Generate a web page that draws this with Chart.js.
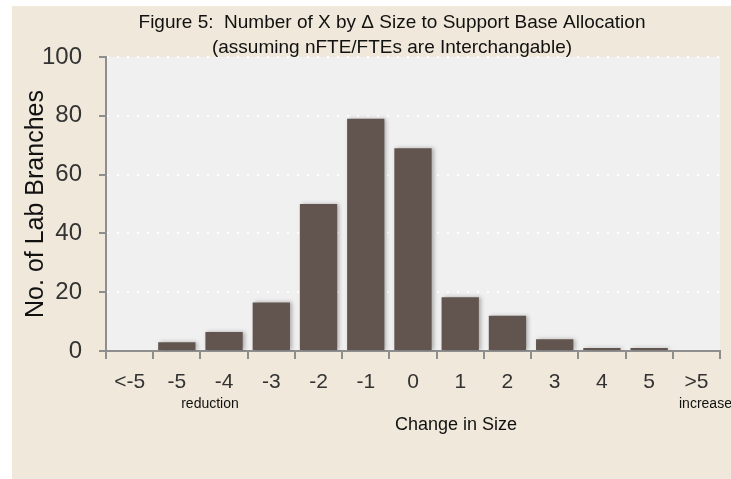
<!DOCTYPE html>
<html>
<head>
<meta charset="utf-8">
<script src="https://cdn.jsdelivr.net/npm/chart.js@4/dist/chart.umd.min.js"></script>
<style>
  html, body { margin: 0; padding: 0; background: #ffffff; }
  #wrap { width: 731px; height: 479px; }
</style>
</head>
<body>
<div id="wrap"><canvas id="sizeChart" width="731" height="479"></canvas></div>
<script>
// categories and counts
const sizeLabels = ['<-5', '-5', '-4', '-3', '-2', '-1', '0', '1', '2', '3', '4', '5', '>5'];
const branchCounts = [0, 3, 6.5, 16.5, 50, 79, 69, 18.3, 12, 4, 1, 1, 0];
const yTicks = [0, 20, 40, 60, 80, 100];

const titleLines = ['Figure 5:  Number of X by \u0394 Size to Support Base Allocation',
  '(assuming nFTE/FTEs are Interchangable)'];

const axisGray = '#8e8e8e';
const barColor = '#62554f';

// beige panel + light gray plot background
const backdrop = {
  id: 'backdrop',
  beforeDraw(chart) {
    const { ctx, chartArea: a } = chart;
    ctx.save();
    ctx.fillStyle = '#f0e8da';
    ctx.fillRect(12, 6, chart.width - 12, chart.height - 6);
    ctx.fillStyle = '#f0f0f0';
    ctx.fillRect(a.left, a.top, a.right - a.left, a.bottom - a.top);
    ctx.restore();
  },
  beforeDatasetsDraw(chart) {
    const ctx = chart.ctx;
    ctx.save();
    ctx.shadowColor = 'rgba(0,0,0,0.28)';
    ctx.shadowBlur = 4;
    ctx.shadowOffsetX = 2;
  },
  afterDatasetsDraw(chart) {
    chart.ctx.restore();
  }
};

// title and the small notes under the x axis
const notes = {
  id: 'notes',
  afterDraw(chart) {
    const ctx = chart.ctx;
    ctx.save();
    ctx.fillStyle = '#111';
    ctx.textAlign = 'center';
    ctx.textBaseline = 'middle';
    ctx.font = '19px "Liberation Sans", Arial, sans-serif';
    ctx.fillText(titleLines[0], 392, 23);
    ctx.fillText(titleLines[1], 392, 48);
    ctx.font = '18px "Liberation Sans", Arial, sans-serif';
    ctx.fillText('Change in Size', 456, 425);
    ctx.font = '14px "Liberation Sans", Arial, sans-serif';
    ctx.fillText('reduction', 210, 404);
    ctx.textAlign = 'left';
    ctx.fillText('increase', 679, 404);
    ctx.restore();
  }
};

new Chart(document.getElementById('sizeChart').getContext('2d'), {
  type: 'bar',
  data: {
    labels: sizeLabels,
    datasets: [{
      data: branchCounts,
      backgroundColor: barColor,
      borderWidth: 0,
      barPercentage: 0.79,
      categoryPercentage: 1
    }]
  },
  options: {
    responsive: false,
    animation: false,
    layout: { padding: { top: 57, right: 11, left: 0, bottom: 0 } },
    plugins: { legend: { display: false }, tooltip: { enabled: false }, title: { display: false } },
    scales: {
      x: {
        offset: true,
        grid: {
          offset: true,
          drawOnChartArea: false,
          tickColor: axisGray,
          tickLength: 8,
          lineWidth: 2
        },
        border: { color: axisGray, width: 2 },
        ticks: {
          color: '#333',
          padding: 11,
          font: { family: '"Liberation Sans", Arial, sans-serif', size: 21 }
        },
        afterFit(scale) { scale.height = 128; }
      },
      y: {
        min: 0,
        max: 100,
        afterBuildTicks(scale) { scale.ticks = yTicks.map(v => ({ value: v })); },
        grid: {
          color: '#ffffff',
          lineWidth: 2,
          tickColor: axisGray,
          tickBorderDash: [],
          tickWidth: 2,
          tickLength: 7
        },
        // in v4 border.dash is what dashes the grid lines
        border: { color: axisGray, width: 2, dash: [2, 8] },
        ticks: {
          color: '#333',
          padding: 17,
          font: { family: '"Liberation Sans", Arial, sans-serif', size: 24 }
        },
        title: {
          display: true,
          text: 'No. of Lab Branches',
          color: '#111',
          padding: { top: 21, bottom: 0 },
          font: { family: '"Liberation Sans", Arial, sans-serif', size: 25 }
        },
        afterFit(scale) { scale.width = 106; }
      }
    }
  },
  plugins: [backdrop, notes]
});
</script>
</body>
</html>
